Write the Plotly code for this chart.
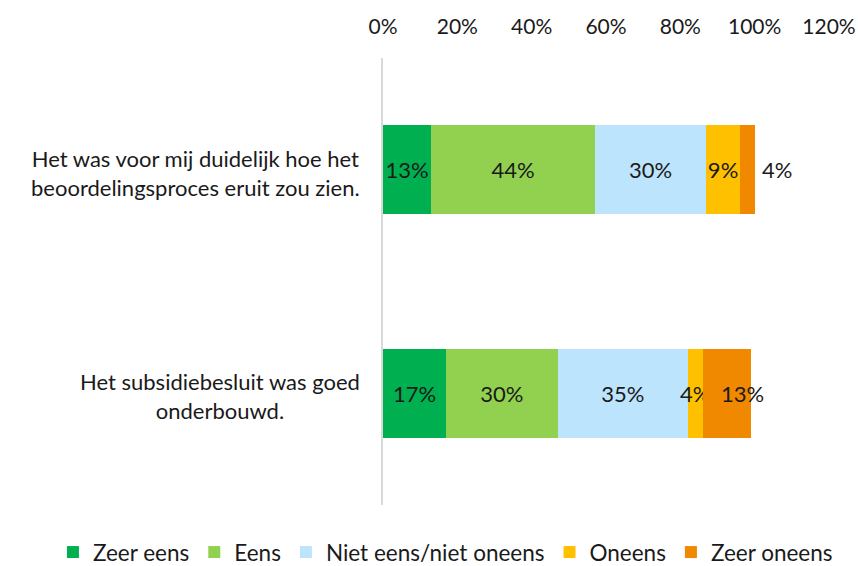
import plotly.graph_objects as go

categories = [
    "Het was voor mij duidelijk hoe het<br>beoordelingsproces eruit zou zien.",
    "Het subsidiebesluit was goed<br>onderbouwd.",
]
series_names = ["Zeer eens", "Eens", "Niet eens/niet oneens", "Oneens", "Zeer oneens"]
zeer_eens = [13, 17]
eens = [44, 30]
neutraal = [30, 35]
oneens = [9, 4]
zeer_oneens = [4, 13]
x_ticks = [0, 20, 40, 60, 80, 100, 120]

colors = ["#00B050", "#92D050", "#BDE4FD", "#FFC000", "#F08800"]
values = [zeer_eens, eens, neutraal, oneens, zeer_oneens]
FONT = "Lato"
TXT = "#1a1a1a"

fig = go.Figure()
for name, vals, col in zip(series_names, values, colors):
    last = name == "Zeer oneens"
    fig.add_trace(go.Bar(
        y=list(range(len(categories))), x=vals, name=name, orientation="h",
        marker=dict(color=col, line=dict(width=0)),
        text=None if last else [f"{v}%" for v in vals],
        textposition="none" if last else "inside", textangle=0,
        insidetextanchor="middle", constraintext="none",
        textfont=dict(family=FONT, size=22, color=TXT),
        cliponaxis=False, hoverinfo="skip",
    ))

# labels of the last segment, placed at the bar ends (computed from the data)
totals = [sum(v[i] for v in values) for i in range(len(categories))]
last_label_style = [dict(xanchor="left", xshift=5), dict(xanchor="right", xshift=15)]
for i, tot in enumerate(totals):
    fig.add_annotation(
        x=tot, y=i, xref="x", yref="y", text=f"{zeer_oneens[i]}%",
        showarrow=False, yanchor="middle",
        font=dict(family=FONT, size=22, color=TXT), **last_label_style[i],
    )

for i, c in enumerate(categories):
    fig.add_annotation(
        xref="paper", x=0, xshift=-21, xanchor="right",
        yref="y", y=i, yshift=-3, yanchor="middle",
        text=c, align="center", showarrow=False,
        font=dict(family=FONT, size=22, color=TXT),
    )

fig.update_layout(
    width=858, height=566,
    margin=dict(l=383, r=29, t=58, b=61, autoexpand=False),
    barmode="stack", bargap=0.6,
    plot_bgcolor="white", paper_bgcolor="white",
    font=dict(family=FONT, size=22, color=TXT),
    uniformtext=dict(minsize=22, mode="show"),
    showlegend=True,
    legend=dict(
        orientation="h", xref="paper", yref="paper",
        x=-0.74, xanchor="left", y=-0.058, yanchor="top",
        font=dict(family=FONT, size=22.5, color=TXT),
        traceorder="normal", itemwidth=30,
    ),
    xaxis=dict(
        side="top", range=[0, 120], tickvals=x_ticks,
        ticktext=[f"{t}%" for t in x_ticks],
        showgrid=False, zeroline=False, showline=False,
        ticks="", ticklabelstandoff=19,
        tickfont=dict(family=FONT, size=21, color=TXT),
    ),
    yaxis=dict(
        range=[1.5, -0.5], showticklabels=False, showgrid=False,
        zeroline=False, showline=True, linecolor="#D9D9D9", linewidth=2,
        ticks="",
    ),
)

fig.write_html(
    "out.html",
    config={"displayModeBar": False},
    post_script="document.body.style.margin='0';document.body.style.overflow='hidden';",
)
